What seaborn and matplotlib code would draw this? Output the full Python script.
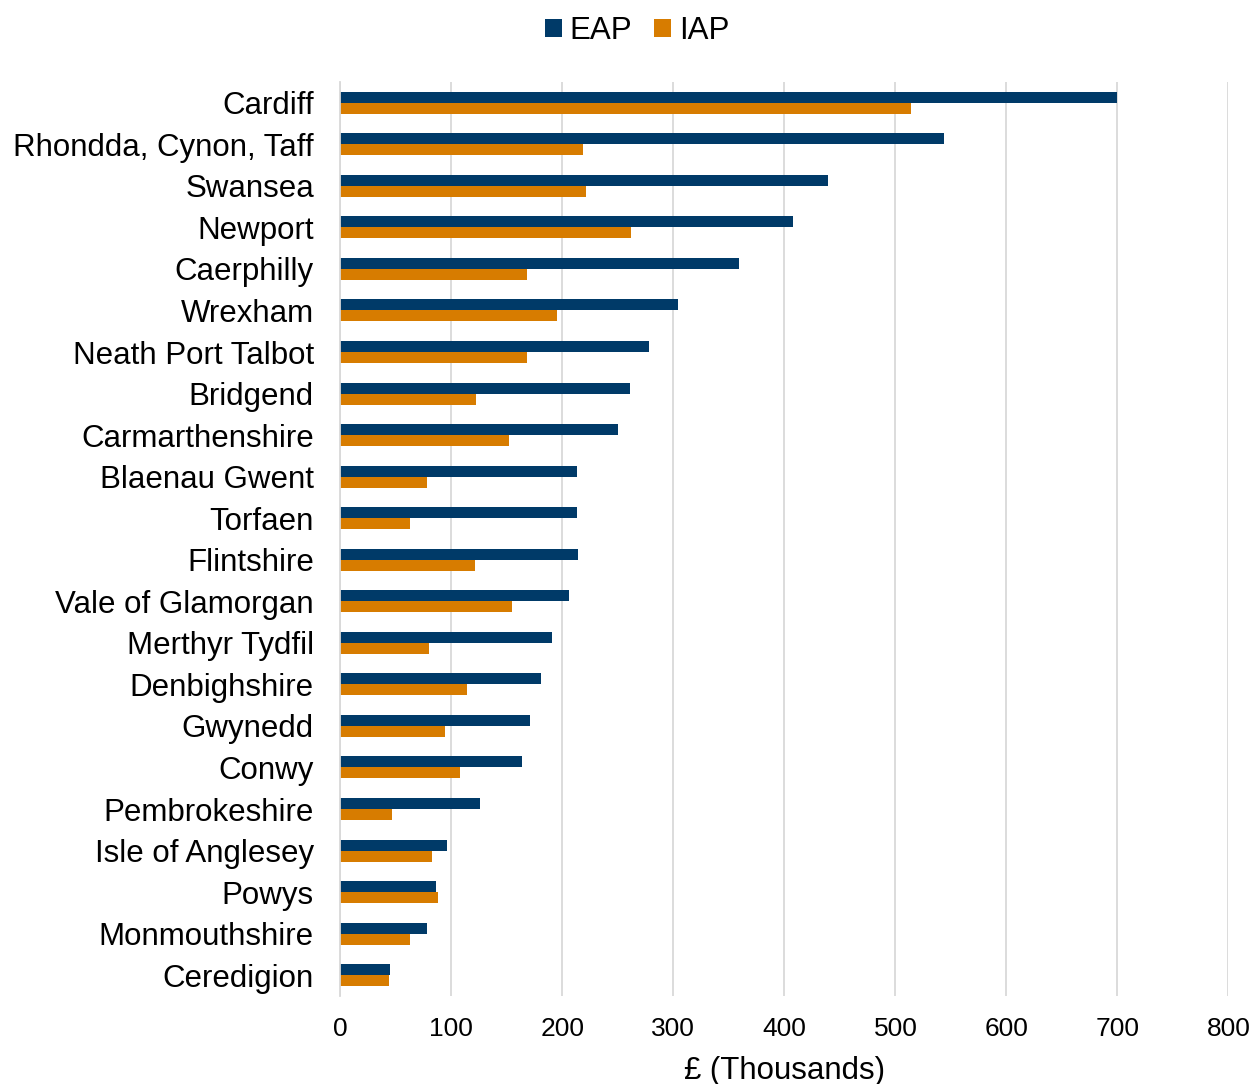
import matplotlib
matplotlib.use("Agg")
import matplotlib.pyplot as plt
import seaborn as sns
import pandas as pd

areas = ["Cardiff", "Rhondda, Cynon, Taff", "Swansea", "Newport", "Caerphilly",
         "Wrexham", "Neath Port Talbot", "Bridgend", "Carmarthenshire",
         "Blaenau Gwent", "Torfaen", "Flintshire", "Vale of Glamorgan",
         "Merthyr Tydfil", "Denbighshire", "Gwynedd", "Conwy", "Pembrokeshire",
         "Isle of Anglesey", "Powys", "Monmouthshire", "Ceredigion"]
eap = [700, 544, 439, 408, 359, 304, 278, 261, 250, 213, 213, 214, 206, 191,
       181, 171, 164, 126, 96, 86, 78, 45]
iap = [514, 219, 221, 262, 168, 195, 168, 122, 152, 78, 63, 121, 155, 80,
       114, 94, 108, 47, 83, 88, 63, 44]
series = ["EAP", "IAP"]
colors = ["#003A68", "#D77C00"]
xticks = [0, 100, 200, 300, 400, 500, 600, 700, 800]

df = pd.DataFrame({
    "area": areas * 2,
    "value": eap + iap,
    "series": [series[0]] * len(areas) + [series[1]] * len(areas),
})

sns.set_theme(style="white")
plt.rcParams["font.family"] = ["Liberation Sans", "DejaVu Sans"]

fig = plt.figure(figsize=(12.51, 10.84), dpi=100)
ax = fig.add_axes([0.272, 0.0812, 0.71, 0.8432])
sns.barplot(data=df, y="area", x="value", hue="series", order=areas,
            hue_order=series, palette=colors, width=0.53, orient="h",
            saturation=1, linewidth=0, ax=ax, legend=True)

ax.set_xlim(0, 800)
ax.set_ylim(len(areas) - 0.5, -0.5)
ax.set_xticks(xticks)
ax.set_xticklabels([str(t) for t in xticks], fontsize=19)
ax.tick_params(axis="y", labelsize=22.5, length=0, pad=19)
ax.tick_params(axis="x", length=0, pad=15)
ax.xaxis.grid(True, color="#D9D9D9", linewidth=1.3)
ax.set_axisbelow(True)
for s in ["top", "right", "bottom"]:
    ax.spines[s].set_visible(False)
ax.spines["left"].set_color("#D9D9D9")
ax.spines["left"].set_linewidth(1.3)
ax.set_ylabel("")
ax.set_xlabel("£ (Thousands)", fontsize=22.5, labelpad=11, color="black")
for lab in ax.get_yticklabels() + ax.get_xticklabels():
    lab.set_color("black")

handles, labels = ax.get_legend_handles_labels()
ax.get_legend().remove()
leg = fig.legend(handles, labels, loc="center", bbox_to_anchor=(637 / 1251, 1 - 31 / 1084),
                 ncol=2, frameon=False, fontsize=22.5, handlelength=0.55,
                 handleheight=0.55, handletextpad=0.25, columnspacing=0.7)
for t in leg.get_texts():
    t.set_color("black")
fig.savefig("out.png", dpi=100)
